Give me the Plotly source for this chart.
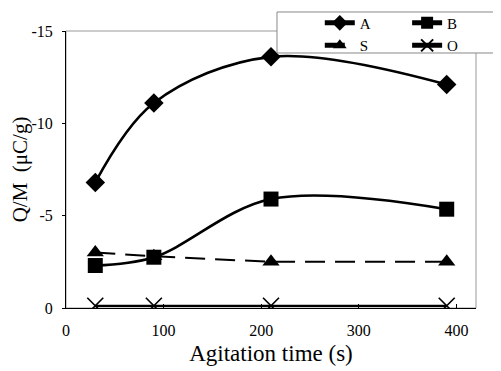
import plotly.graph_objects as go

time_s = [30, 90, 210, 390]
series_A = [-6.8, -11.1, -13.6, -12.1]
series_B = [-2.3, -2.75, -5.9, -5.35]
series_S = [-3.0, -2.8, -2.5, -2.5]
series_O = [-0.12, -0.12, -0.12, -0.12]
y_ticks = [0, -5, -10, -15]
y_tick_labels = ["0", "-5", "-10", "-15"]
x_ticks = [0, 100, 200, 300, 400]

FONT = "Liberation Serif, Times New Roman, serif"

fig = go.Figure()
fig.add_trace(go.Scatter(x=time_s, y=series_A, name="A", mode="lines+markers", legend="legend",
                         line=dict(color="black", width=2.6, shape="spline", smoothing=1.0),
                         marker=dict(symbol="diamond", size=15, color="black")))
fig.add_trace(go.Scatter(x=time_s, y=series_B, name="B", mode="lines+markers", legend="legend2",
                         line=dict(color="black", width=2.6, shape="spline", smoothing=1.0),
                         marker=dict(symbol="square", size=15, color="black")))
fig.add_trace(go.Scatter(x=time_s, y=series_S, name="S", mode="lines+markers", legend="legend",
                         line=dict(color="black", width=2, dash="20px,10px"),
                         marker=dict(symbol="triangle-up", size=15, color="black")))
fig.add_trace(go.Scatter(x=time_s, y=series_O, name="O", mode="lines+markers", legend="legend2",
                         line=dict(color="black", width=2.2),
                         marker=dict(symbol="x-thin-open", size=16, color="black",
                                     line=dict(color="black", width=1.6))))

# plot frame (grey top/right) and legend box
fig.add_shape(type="rect", xref="paper", yref="paper", x0=0, y0=0, x1=1, y1=1,
              line=dict(color="#999999", width=1), layer="below")
fig.add_shape(type="rect", xref="paper", yref="paper", x0=0.5146, y0=0.9206, x1=1.09, y1=1.0686,
              line=dict(color="#888888", width=1), fillcolor="white", layer="above")

leg_common = dict(orientation="v", yanchor="top", xanchor="left", bgcolor="rgba(0,0,0,0)",
                  borderwidth=0, font=dict(family=FONT, size=15), tracegroupgap=0,
                  itemsizing="constant")

fig.update_layout(
    width=493, height=363,
    margin=dict(l=58, r=25, t=23, b=63, autoexpand=False),
    paper_bgcolor="white", plot_bgcolor="white",
    font=dict(family=FONT, color="black", size=16),
    showlegend=True,
    legend=dict(x=0.619, y=1.088, **leg_common),
    legend2=dict(x=0.832, y=1.088, **leg_common),
    xaxis=dict(range=[0, 420], tickvals=x_ticks, ticks="inside", ticklen=4,
               tickcolor="black", showline=True, linecolor="black", linewidth=1,
               showgrid=False, zeroline=False, ticklabelstandoff=8,
               title=dict(text="Agitation time (s)", font=dict(family=FONT, size=23), standoff=6),
               tickfont=dict(family=FONT, size=16)),
    yaxis=dict(range=[0, -15], tickvals=y_ticks, ticktext=y_tick_labels, ticks="outside",
               ticklen=3, tickcolor="black", showline=True, linecolor="black", linewidth=1,
               showgrid=False, zeroline=False, ticklabelstandoff=6,
               title=dict(text="Q/M  (μC/g)", font=dict(family=FONT, size=21), standoff=4),
               tickfont=dict(family=FONT, size=16)),
)

fig.write_html("out.html")
